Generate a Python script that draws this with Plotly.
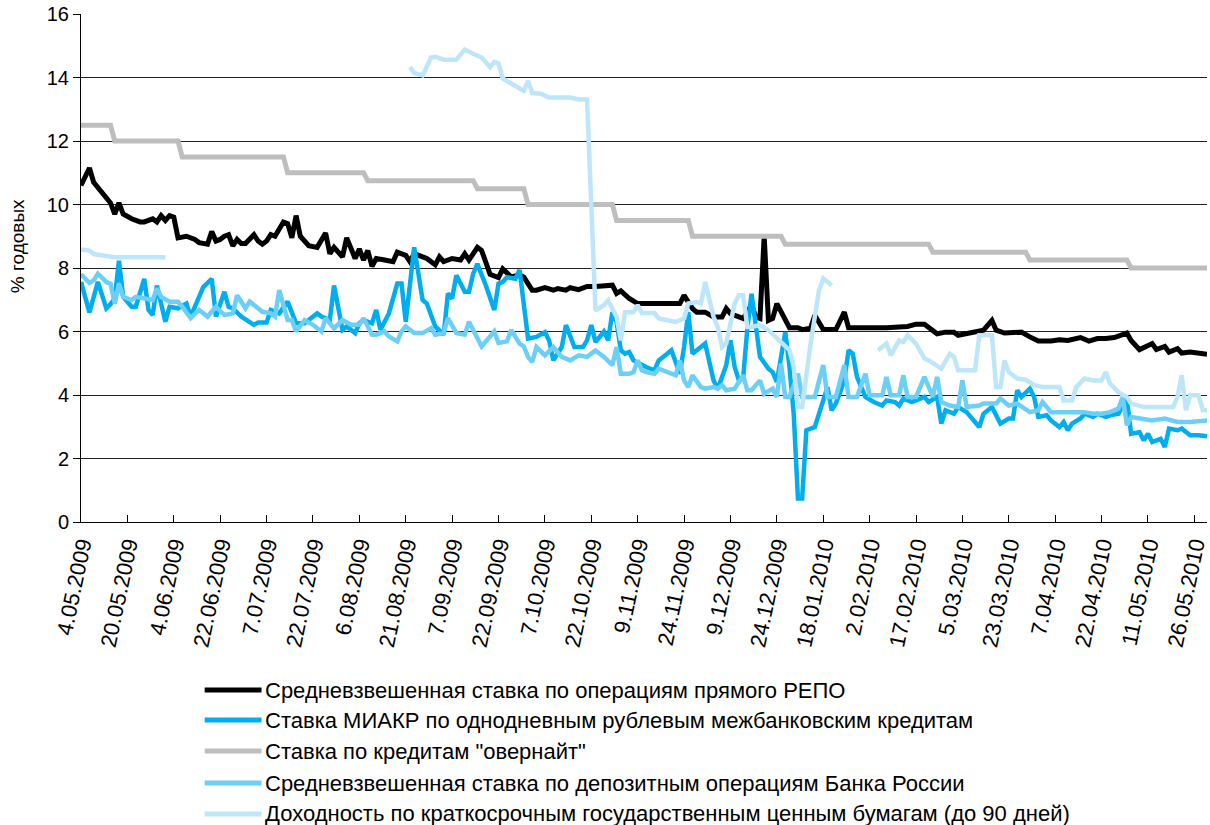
import plotly.graph_objects as go

# ---------------- data (trading-day index -> % per annum) ----------------
tick_day = [0, 11, 22, 33, 44, 55, 66, 77, 88, 99, 110, 121, 132, 143, 154, 165,
            176, 187, 198, 209, 220, 231, 242, 253, 264]
tick_labels = ["4.05.2009", "20.05.2009", "4.06.2009", "22.06.2009", "7.07.2009",
               "22.07.2009", "6.08.2009", "21.08.2009", "7.09.2009", "22.09.2009",
               "7.10.2009", "22.10.2009", "9.11.2009", "24.11.2009", "9.12.2009",
               "24.12.2009", "18.01.2010", "2.02.2010", "17.02.2010", "5.03.2010",
               "23.03.2010", "7.04.2010", "22.04.2010", "11.05.2010", "26.05.2010"]
last_day = 267

series_names = [
    "Средневзвешенная ставка по операциям прямого РЕПО",
    "Ставка МИАКР по однодневным рублевым межбанковским кредитам",
    "Ставка по кредитам \"овернайт\"",
    "Средневзвешенная ставка по депозитным операциям Банка России",
    "Доходность по краткосрочным государственным ценным бумагам (до 90 дней)",
]

repo_day = [0, 2, 3, 5, 6, 7, 8, 9, 10, 12, 14, 15, 17, 18, 19, 20, 21, 22, 23, 25, 27, 28, 30, 31,
            32, 33, 34, 35, 36, 37, 38, 39, 41, 42, 43, 44, 45, 46, 48, 49, 50, 51, 52, 54, 56, 58,
            59, 60, 62, 63, 65, 66, 67, 68, 69, 70, 72, 74, 75, 77, 78, 79, 81, 82, 84, 85, 86, 88,
            90, 91, 92, 94, 95, 97, 99, 100, 102, 104, 105, 107, 108, 110, 112, 113, 115, 116, 118,
            120, 122, 124, 126, 127, 128, 130, 131, 132, 141, 142, 143, 145, 146, 148, 150, 152, 153,
            154, 156, 157, 159, 160, 161, 162, 163, 164, 165, 167, 168, 170, 171, 173, 174, 176, 179,
            181, 182, 186, 191, 196, 198, 200, 203, 205, 207, 208, 210, 214, 216, 217, 219, 223, 225,
            227, 230, 232, 234, 236, 237, 239, 241, 243, 245, 248, 249, 251, 252, 254, 255, 257, 258,
            260, 261, 263, 267]
repo_rate = [10.6, 11.15, 10.7, 10.4, 10.25, 10.05, 9.7, 10.05, 9.7, 9.55, 9.45, 9.45, 9.55, 9.45,
             9.65, 9.5, 9.65, 9.6, 8.95, 9.0, 8.9, 8.8, 8.75, 9.15, 8.85, 8.9, 9.0, 9.05, 8.7, 8.9,
             8.77, 8.77, 9.05, 8.85, 8.75, 8.85, 9.05, 9.0, 9.45, 9.4, 8.95, 9.65, 9.0, 8.7, 8.65,
             9.1, 8.45, 8.65, 8.35, 8.95, 8.3, 8.6, 8.25, 8.55, 8.05, 8.3, 8.25, 8.2, 8.5, 8.4, 8.2,
             8.45, 8.35, 8.3, 8.1, 8.35, 8.2, 8.3, 8.25, 8.45, 8.25, 8.65, 8.55, 7.8, 7.7, 7.97,
             7.72, 7.78, 7.71, 7.3, 7.3, 7.38, 7.3, 7.35, 7.3, 7.38, 7.32, 7.42, 7.42, 7.46, 7.46,
             7.2, 7.28, 7.04, 6.96, 6.88, 6.88, 6.88, 7.14, 6.72, 6.61, 6.61, 6.46, 6.46, 6.72,
             6.56, 6.46, 6.41, 6.83, 6.46, 6.41, 9.0, 6.35, 6.41, 6.88, 6.41, 6.12, 6.12, 6.06,
             6.1, 6.51, 6.06, 6.06, 6.61, 6.12, 6.12, 6.12, 6.16, 6.23, 6.23, 5.93, 5.98, 5.98,
             5.88, 5.93, 6.04, 6.35, 6.04, 5.95, 5.98, 5.83, 5.70, 5.70, 5.74, 5.72, 5.78, 5.81,
             5.70, 5.78, 5.78, 5.81, 5.95, 5.72, 5.43, 5.49, 5.62, 5.43, 5.53, 5.35, 5.46, 5.32,
             5.35, 5.28]

miacr_day = [0, 2, 4, 6, 7, 8, 9, 10, 12, 13, 15, 16, 17, 18, 20, 21, 23, 25, 26, 28, 29, 31, 32,
             34, 35, 36, 38, 41, 42, 44, 45, 47, 49, 51, 53, 56, 57, 59, 60, 62, 63, 65, 66, 67, 69,
             70, 71, 73, 75, 76, 77, 79, 81, 82, 84, 86, 87, 88, 89, 91, 92, 93, 94, 96, 98, 99, 100,
             101, 103, 104, 105, 106, 108, 110, 111, 112, 114, 115, 117, 119, 120, 121, 122, 124, 125,
             126, 127, 128, 129, 130, 131, 133, 134, 136, 137, 139, 140, 141, 142, 143, 144, 145, 148,
             150, 151, 153, 154, 155, 156, 157, 158, 159, 160, 161, 163, 164, 165, 166, 167, 168, 169,
             170, 171, 172, 174, 175, 176, 177, 178, 179, 181, 182, 183, 184, 186, 188, 190, 191, 193,
             194, 195, 197, 198, 200, 201, 203, 204, 205, 207, 208, 210, 212, 213, 214, 216, 217, 218,
             220, 221, 222, 223, 225, 226, 227, 229, 230, 232, 233, 234, 235, 237, 238, 240, 241, 243,
             244, 246, 248, 249, 251, 252, 253, 254, 256, 257, 258, 260, 261, 263, 265, 267]
miacr_rate = [7.56, 6.6, 7.56, 6.73, 6.86, 7.04, 8.23, 7.09, 6.78, 6.78, 7.66, 6.68, 6.52, 7.45,
              6.31, 6.78, 6.73, 6.88, 6.47, 7.14, 7.4, 7.66, 6.47, 7.25, 6.78, 6.73, 6.47, 6.21,
              6.28, 6.28, 6.68, 6.57, 6.94, 6.26, 6.26, 6.57, 6.47, 6.36, 7.45, 6.05, 6.16, 5.95,
              6.26, 6.36, 6.26, 6.68, 6.05, 6.57, 7.51, 7.51, 6.31, 8.65, 6.99, 6.88, 6.16, 5.9,
              7.2, 7.04, 7.77, 7.25, 7.25, 7.82, 8.13, 7.45, 6.68, 7.51, 7.56, 7.71, 7.66, 7.94,
              6.77, 5.78, 5.83, 5.98, 5.72, 5.09, 5.51, 6.2, 5.51, 5.51, 5.72, 6.2, 5.67, 6.0,
              5.72, 6.61, 6.3, 5.41, 5.3, 5.35, 5.09, 4.94, 4.88, 4.78, 5.09, 5.3, 5.41, 5.04,
              4.67, 5.51, 6.61, 5.3, 5.62, 4.46, 4.2, 4.94, 5.72, 4.88, 4.46, 4.52, 6.09, 7.19,
              6.14, 5.2, 4.83, 4.72, 4.41, 5.3, 5.98, 4.88, 3.41, 0.74, 0.74, 2.89, 2.99, 3.41,
              3.78, 4.25, 3.52, 3.73, 4.46, 5.41, 5.3, 4.57, 3.94, 3.78, 3.67, 3.83, 3.78, 3.67,
              3.89, 3.78, 3.83, 3.94, 3.78, 3.94, 3.10, 3.52, 3.41, 3.62, 3.46, 3.15, 2.99, 3.41,
              3.62, 3.36, 3.10, 3.26, 3.26, 4.15, 3.94, 4.20, 3.94, 3.31, 3.36, 3.20, 2.99, 3.15,
              2.89, 3.10, 3.26, 3.41, 3.31, 3.41, 3.31, 3.36, 3.41, 3.89, 2.78, 2.83, 2.57, 2.78,
              2.52, 2.62, 2.36, 2.94, 2.89, 2.94, 2.73, 2.73, 2.70]

# overnight rate: day on which each new rate is fully in force
overnight_start = 12.5
overnight_change_day = [8, 24, 49, 68, 94, 106, 127, 145, 167, 202, 225, 249]
overnight_new_rate = [12.0, 11.5, 11.0, 10.75, 10.5, 10.0, 9.5, 9.0, 8.75, 8.5, 8.25, 8.0]

deposit_day = [0, 2, 3, 4, 6, 7, 8, 9, 10, 12, 13, 15, 17, 18, 19, 21, 23, 24, 26, 28, 30, 32, 34,
               36, 37, 39, 40, 42, 43, 45, 46, 47, 49, 50, 51, 53, 55, 57, 58, 60, 62, 64, 66, 67,
               69, 70, 72, 73, 75, 76, 77, 79, 81, 83, 84, 86, 87, 89, 91, 92, 94, 95, 98, 99, 101,
               102, 104, 105, 106, 107, 108, 110, 112, 114, 116, 118, 120, 122, 124, 126, 127, 128,
               130, 131, 132, 133, 134, 136, 137, 139, 141, 142, 143, 144, 145, 147, 148, 150, 151,
               152, 153, 155, 157, 158, 159, 161, 162, 164, 165, 166, 167, 168, 170, 171, 173, 174,
               176, 177, 179, 181, 182, 184, 186, 187, 190, 191, 192, 194, 195, 196, 198, 200, 202,
               203, 204, 206, 208, 209, 210, 213, 214, 217, 218, 220, 222, 225, 227, 228, 230, 233,
               236, 238, 240, 242, 244, 246, 247, 248, 249, 251, 254, 257, 260, 263, 267]
deposit_rate = [7.8, 7.53, 7.61, 7.82, 7.56, 7.51, 6.88, 7.51, 7.09, 6.99, 7.09, 7.04, 6.99, 7.35,
                7.09, 6.94, 6.94, 6.78, 6.42, 6.68, 6.47, 6.78, 6.52, 6.57, 7.14, 6.73, 6.94, 6.73,
                6.62, 6.57, 6.47, 7.3, 6.36, 6.36, 6.0, 6.36, 6.21, 6.0, 6.42, 6.1, 6.36, 6.21, 6.21,
                6.42, 5.9, 5.9, 6.0, 5.84, 5.69, 6.0, 6.16, 5.95, 5.95, 6.1, 5.9, 5.95, 6.42, 5.95,
                5.9, 6.31, 5.79, 5.53, 6.0, 5.64, 5.69, 6.05, 5.62, 5.53, 5.2, 5.04, 5.51, 5.25,
                5.51, 5.2, 5.09, 5.25, 5.2, 5.4, 5.2, 4.94, 5.51, 4.67, 4.67, 4.72, 5.09, 4.78,
                4.72, 4.67, 4.83, 4.72, 4.62, 5.09, 4.46, 4.25, 4.62, 4.25, 4.2, 4.25, 4.2, 4.31,
                4.15, 4.2, 4.62, 4.15, 4.15, 4.46, 4.04, 4.2, 3.94, 4.99, 3.94, 3.94, 4.67, 3.94,
                3.94, 3.94, 4.94, 3.94, 3.94, 4.94, 3.94, 3.94, 4.67, 3.99, 3.99, 4.57, 3.99, 3.99,
                4.62, 3.94, 3.94, 4.57, 3.94, 4.57, 3.78, 3.67, 3.62, 4.46, 3.62, 3.67, 3.73, 3.73,
                3.89, 3.67, 3.73, 3.46, 3.52, 3.78, 3.46, 3.46, 3.46, 3.46, 3.41, 3.41, 3.46, 3.57,
                3.94, 3.05, 3.31, 3.26, 3.20, 3.26, 3.15, 3.15, 3.20]

# short-term government securities yield (None = no quotes)
gov_day = [0, 2, 3, 6, 8, 11, 20, None,
           78, 79, 81, 83, 84, 86, 89, 91, 93, 95, 97, 98, 99, 100, 102, 104, 105, 106, 107, 109,
           111, 116, 118, 120, 122, 124, 125, 127, 128, 129, 131, 132, 133, 136, 137, 141, 143,
           144, 146, 147, 148, 150, 151, 152, 153, 155, 156, 157, 158, 159, 161, 163, 165, 166,
           168, 169, 170, 171, 173, 175, 176, 178, None,
           189, 191, 192, 194, 195, 196, 198, 200, 201, 204, 206, 207, 208, 212, 213, 216, 217,
           218, 219, 220, 222, 224, 226, 228, 232, 233, 235, 236, 238, 240, 242, 243, 244, 246,
           248, 249, 252, 259, 260, 261, 262, 263, 265, 266, 267]
gov_rate = [8.58, 8.55, 8.44, 8.39, 8.34, 8.34, 8.34, None,
            14.33, 14.14, 14.07, 14.63, 14.65, 14.56, 14.56, 14.88, 14.75, 14.63, 14.33, 14.49,
            14.44, 13.97, 13.81, 13.65, 13.58, 13.89, 13.51, 13.49, 13.37, 13.37, 13.31, 13.31,
            6.66, 6.83, 6.98, 6.46, 5.72, 6.61, 6.61, 6.83, 6.58, 6.58, 6.41, 6.3, 6.41, 6.88,
            6.93, 6.88, 7.56, 6.46, 6.14, 5.51, 5.62, 6.88, 7.14, 7.14, 6.14, 6.14, 6.2, 6.04,
            5.78, 5.67, 5.41, 4.88, 3.62, 3.62, 5.62, 7.30, 7.67, 7.46, None,
            5.41, 5.62, 5.25, 5.72, 5.67, 5.88, 5.62, 5.15, 5.09, 4.83, 5.30, 5.2, 4.78, 4.78,
            5.88, 5.88, 4.25, 4.25, 5.09, 4.72, 4.52, 4.48, 4.31, 4.25, 4.25, 3.83, 3.83, 4.25,
            4.52, 4.46, 4.46, 4.72, 4.36, 4.09, 3.94, 3.73, 3.62, 3.62, 3.94, 4.62, 3.52, 3.99,
            3.99, 3.52, 3.52]

colors = ["#000000", "#00AEEF", "#BEBEBE", "#6CCFF6", "#BDE6F9"]
widths = [5, 4.5, 5, 4.5, 4.5]

# overnight steps: rate holds until the day before each change, new rate from change day
on_x, on_y = [0], [overnight_start]
prev = overnight_start
for d, r in zip(overnight_change_day, overnight_new_rate):
    on_x += [d - 1, d]
    on_y += [prev, r]
    prev = r
on_x.append(last_day)
on_y.append(prev)

xs = [repo_day, miacr_day, on_x, deposit_day, gov_day]
ys = [repo_rate, miacr_rate, on_y, deposit_rate, gov_rate]

fig = go.Figure()
for name, x, y, c, w in zip(series_names, xs, ys, colors, widths):
    fig.add_trace(go.Scatter(x=x, y=y, mode="lines", name=name, showlegend=False,
                             connectgaps=False,
                             line=dict(color=c, width=w, shape="linear")))

# ---------------- layout ----------------
W, H = 1210, 825
PLOT_L, PLOT_R, PLOT_T, PLOT_B = 81, 1210, 14, 522          # target pixels in the window
ML, MR, MT, MB = PLOT_L, W - PLOT_R, PLOT_T, H - PLOT_B
PW, PH = PLOT_R - PLOT_L, PLOT_B - PLOT_T


def px_x(px):
    return (px - PLOT_L) / PW


def px_y(py):
    return (PLOT_B - py) / PH


font = "Liberation Sans, Arial, sans-serif"
shapes, annotations = [], []
legend_rows = [690, 720, 751, 783, 814]
for name, c, py in zip(series_names, colors, legend_rows):
    shapes.append(dict(type="line", xref="paper", yref="paper",
                       x0=px_x(205), x1=px_x(262), y0=px_y(py), y1=px_y(py),
                       line=dict(color=c, width=5)))
    annotations.append(dict(xref="paper", yref="paper", x=px_x(263), y=px_y(py),
                            text=name, showarrow=False, xanchor="left", yanchor="middle",
                            font=dict(family=font, size=22, color="#000")))

annotations.append(dict(xref="paper", yref="paper", x=px_x(18), y=px_y(246),
                        text="% годовых", showarrow=False, textangle=-90,
                        xanchor="center", yanchor="middle",
                        font=dict(family=font, size=19, color="#000")))

fig.update_layout(
    width=W, height=H,
    margin=dict(l=ML, r=MR, t=MT, b=MB, pad=0),
    paper_bgcolor="white", plot_bgcolor="white",
    font=dict(family=font, color="#000"),
    showlegend=False,
    shapes=shapes, annotations=annotations,
    xaxis=dict(range=[0, last_day], tickmode="array", tickvals=tick_day, ticktext=tick_labels,
               tickangle=-78, tickfont=dict(family=font, size=22), ticklabeloverflow="allow",
               ticks="inside", ticklen=7, tickcolor="#000", tickwidth=1,
               showgrid=False, zeroline=False, showline=True, linecolor="#000", linewidth=1),
    yaxis=dict(range=[0, 16], dtick=2, tickfont=dict(family=font, size=20),
               ticklabeloverflow="allow",
               ticks="outside", ticklen=7, tickcolor="#000", tickwidth=1,
               showgrid=True, gridcolor="#222222", gridwidth=1,
               zeroline=False, showline=True, linecolor="#000", linewidth=1),
)

# remove the browser's default 8px page margin so the figure fills the window exactly
fig.write_html("out.html",
               config={"displayModeBar": False},
               post_script="document.body.style.margin='0';document.body.style.padding='0';")
